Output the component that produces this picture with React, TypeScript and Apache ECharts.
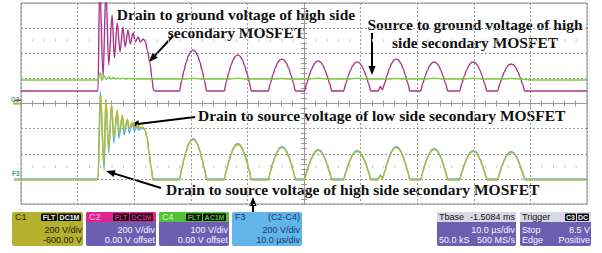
import React, { useEffect, useRef } from "react";
import * as echarts from "echarts";

// Time in µs from screen centre (10 µs/div), values in volts relative to each trace's ground marker.
const c2DrainToGround: [number, number][] = [
  [-50, 0], [-36.4, 0], [-36.1, 850], [-35.5, 111], [-35.0, 820], [-34.5, 207], [-33.9, 605], [-33.5, 263],
  [-33.0, 541], [-32.5, 310], [-32.0, 509], [-31.6, 350], [-31.1, 486], [-30.7, 374], [-30.2, 462], [-29.8, 390],
  [-29.3, 430], [-28.9, 390], [-28.4, 414], [-28.0, 390], [-27.7, 326], [-27.2, 223], [-26.9, 111], [-26.6, 8], [-26.3, 0],
  [-22.0, 0], [-21.6, 84], [-21.2, 163], [-20.8, 230], [-20.4, 282], [-20.0, 315], [-19.6, 326], [-19.2, 315], [-18.8, 282], [-18.4, 230], [-18.0, 163], [-17.6, 84], [-17.2, 0],
  [-14.1, 0], [-13.7, 74], [-13.3, 144], [-12.9, 203], [-12.5, 249], [-12.1, 277], [-11.7, 287], [-11.3, 277], [-10.9, 249], [-10.5, 203], [-10.1, 144], [-9.7, 74], [-9.3, 0],
  [-6.3, 0], [-5.9, 66], [-5.5, 128], [-5.1, 180], [-4.7, 221], [-4.3, 246], [-3.9, 255], [-3.5, 246], [-3.1, 221], [-2.7, 180], [-2.3, 128], [-1.9, 66], [-1.5, 0],
  [0.1, 0], [0.5, 62], [0.9, 120], [1.3, 169], [1.7, 207], [2.1, 231], [2.5, 239], [2.9, 231], [3.3, 207], [3.7, 169], [4.1, 120], [4.5, 62], [4.9, 0],
  [7.0, 0], [7.4, 60], [7.8, 116], [8.2, 163], [8.6, 200], [9.0, 223], [9.4, 231], [9.8, 223], [10.2, 200], [10.6, 163], [11.0, 116], [11.4, 60], [11.8, 0],
  [13.1, 0], [13.5, 35], [13.85, 10], [14.3, 66], [14.7, 128], [15.1, 180], [15.5, 221], [15.9, 246], [16.3, 255], [16.7, 246], [17.1, 221], [17.5, 180], [17.9, 128], [18.3, 66], [18.7, 0],
  [20.6, 0], [21.0, 60], [21.4, 116], [21.8, 163], [22.2, 200], [22.6, 223], [23.0, 231], [23.4, 223], [23.8, 200], [24.2, 163], [24.6, 116], [25.0, 60], [25.4, 0],
  [27.5, 0], [27.9, 60], [28.3, 116], [28.7, 163], [29.1, 200], [29.5, 223], [29.9, 231], [30.3, 223], [30.7, 200], [31.1, 163], [31.5, 116], [31.9, 60], [32.3, 0],
  [34.2, 0], [34.6, 56], [35.0, 108], [35.4, 152], [35.8, 186], [36.2, 208], [36.6, 215], [37.0, 208], [37.4, 186], [37.8, 152], [38.2, 108], [38.6, 56], [39.0, 0],
  [50, 0],
];

const c4SourceToGround: [number, number][] = [
  [-50, 0], [-36.4, 0], [-36.0, 30], [-35.7, -2], [-35.3, 16], [-34.9, 2], [-34.5, 12], [-34.1, 4], [-33.7, 10],
  [-33.3, 4], [-32.9, 8], [-32.5, 4], [-32.0, 7], [-31.5, 4], [-30.8, 6], [-30.0, 4],
  [-21.0, 4], [-19.6, 7], [-18.2, 4], [-13.1, 4], [-11.7, 7], [-10.3, 4], [-5.3, 4], [-3.9, 6], [-2.5, 4],
  [1.1, 4], [2.5, 7], [3.9, 4], [8.0, 4], [9.4, 7], [10.8, 4], [14.9, 4], [16.3, 6], [17.7, 4],
  [21.6, 4], [23.0, 7], [24.4, 4], [28.5, 4], [29.9, 7], [31.3, 4], [35.2, 4], [36.6, 6], [38.5, 4],
  [40, 0], [50, 0],
];

const c1LowSideDrainToSource: [number, number][] = [
  [-50, 0], [-36.4, 0], [-35.9, 677], [-35.4, 119], [-35.0, 645], [-34.5, 255], [-34.0, 605], [-33.6, 334],
  [-33.0, 557], [-32.6, 374], [-32.1, 517], [-31.7, 398], [-31.2, 486], [-30.8, 406], [-30.3, 462], [-29.9, 414],
  [-29.4, 438], [-29.0, 414], [-28.5, 422], [-28.1, 398], [-27.7, 334], [-27.4, 223], [-27.0, 96], [-26.7, 0],
  [-22.0, 0], [-21.6, 83], [-21.2, 161], [-20.8, 228], [-20.4, 279], [-20.0, 311], [-19.6, 322], [-19.2, 311], [-18.8, 279], [-18.4, 228], [-18.0, 161], [-17.6, 83], [-17.2, 0],
  [-14.1, 0], [-13.7, 73], [-13.3, 142], [-12.9, 200], [-12.5, 245], [-12.1, 273], [-11.7, 283], [-11.3, 273], [-10.9, 245], [-10.5, 200], [-10.1, 142], [-9.7, 73], [-9.3, 0],
  [-6.3, 0], [-5.9, 67], [-5.5, 130], [-5.1, 183], [-4.7, 224], [-4.3, 250], [-3.9, 259], [-3.5, 250], [-3.1, 224], [-2.7, 183], [-2.3, 130], [-1.9, 67], [-1.5, 0],
  [0.1, 0], [0.5, 61], [0.9, 118], [1.3, 166], [1.7, 204], [2.1, 227], [2.5, 235], [2.9, 227], [3.3, 204], [3.7, 166], [4.1, 118], [4.5, 61], [4.9, 0],
  [7.0, 0], [7.4, 59], [7.8, 114], [8.2, 160], [8.6, 197], [9.0, 219], [9.4, 227], [9.8, 219], [10.2, 197], [10.6, 160], [11.0, 114], [11.4, 59], [11.8, 0],
  [13.1, 0], [13.5, 32], [13.85, 8], [14.3, 67], [14.7, 130], [15.1, 183], [15.5, 224], [15.9, 250], [16.3, 259], [16.7, 250], [17.1, 224], [17.5, 183], [17.9, 130], [18.3, 67], [18.7, 0],
  [20.6, 0], [21.0, 63], [21.4, 122], [21.8, 172], [22.2, 210], [22.6, 235], [23.0, 243], [23.4, 235], [23.8, 210], [24.2, 172], [24.6, 122], [25.0, 63], [25.4, 0],
  [27.5, 0], [27.9, 59], [28.3, 114], [28.7, 160], [29.1, 197], [29.5, 219], [29.9, 227], [30.3, 219], [30.7, 197], [31.1, 160], [31.5, 114], [31.9, 59], [32.3, 0],
  [34.2, 0], [34.6, 57], [35.0, 110], [35.4, 155], [35.8, 190], [36.2, 212], [36.6, 219], [37.0, 212], [37.4, 190], [37.8, 155], [38.2, 110], [38.6, 57], [39.0, 0],
  [50, 0],
];

const f3HighSideDrainToSource: [number, number][] = [
  [-50, 0], [-36.4, 0], [-36.0, 700], [-35.3, 72], [-35.0, 629], [-34.5, 207], [-34.0, 589], [-33.6, 287],
  [-33.0, 541], [-32.7, 326], [-32.1, 501], [-31.8, 350], [-31.2, 470], [-30.9, 366], [-30.3, 446], [-30.0, 382],
  [-29.4, 422], [-29.2, 390], [-28.5, 410], [-28.1, 390], [-27.7, 326], [-27.4, 215], [-27.0, 88], [-26.7, 0],
  [-22.0, 0], [-21.6, 83], [-21.2, 161], [-20.8, 228], [-20.4, 279], [-20.0, 311], [-19.6, 322], [-19.2, 311], [-18.8, 279], [-18.4, 228], [-18.0, 161], [-17.6, 83], [-17.2, 0],
  [-14.1, 0], [-13.7, 73], [-13.3, 142], [-12.9, 200], [-12.5, 245], [-12.1, 273], [-11.7, 283], [-11.3, 273], [-10.9, 245], [-10.5, 200], [-10.1, 142], [-9.7, 73], [-9.3, 0],
  [-6.3, 0], [-5.9, 67], [-5.5, 130], [-5.1, 183], [-4.7, 224], [-4.3, 250], [-3.9, 259], [-3.5, 250], [-3.1, 224], [-2.7, 183], [-2.3, 130], [-1.9, 67], [-1.5, 0],
  [0.1, 0], [0.5, 61], [0.9, 118], [1.3, 166], [1.7, 204], [2.1, 227], [2.5, 235], [2.9, 227], [3.3, 204], [3.7, 166], [4.1, 118], [4.5, 61], [4.9, 0],
  [7.0, 0], [7.4, 59], [7.8, 114], [8.2, 160], [8.6, 197], [9.0, 219], [9.4, 227], [9.8, 219], [10.2, 197], [10.6, 160], [11.0, 114], [11.4, 59], [11.8, 0],
  [13.1, 0], [13.5, 32], [13.85, 8], [14.3, 67], [14.7, 130], [15.1, 183], [15.5, 224], [15.9, 250], [16.3, 259], [16.7, 250], [17.1, 224], [17.5, 183], [17.9, 130], [18.3, 67], [18.7, 0],
  [20.6, 0], [21.0, 63], [21.4, 122], [21.8, 172], [22.2, 210], [22.6, 235], [23.0, 243], [23.4, 235], [23.8, 210], [24.2, 172], [24.6, 122], [25.0, 63], [25.4, 0],
  [27.5, 0], [27.9, 59], [28.3, 114], [28.7, 160], [29.1, 197], [29.5, 219], [29.9, 227], [30.3, 219], [30.7, 197], [31.1, 160], [31.5, 114], [31.9, 59], [32.3, 0],
  [34.2, 0], [34.6, 57], [35.0, 110], [35.4, 155], [35.8, 190], [36.2, 212], [36.6, 219], [37.0, 212], [37.4, 190], [37.8, 155], [38.2, 110], [38.6, 57], [39.0, 0],
  [50, 0],
];

// volts per division and ground position (divisions from screen centre)
const traceNames = ["C2", "C4", "F3", "C1"];
const traceScales = [200, 100, 200, 200];
const tracePositions = [0.5, 0.935, -3.005, -3.045];
const traceColors = ["#a8358a", "#7ccd3e", "#55b2e6", "#b8bd2c"];
const traceData = [c2DrainToGround, c4SourceToGround, f3HighSideDrainToSource, c1LowSideDrainToSource];

const SERIF = '"Liberation Serif", "Times New Roman", serif';
const SANS = '"Liberation Sans", Arial, sans-serif';

function txt(text: string, x: number, y: number, size: number, fill: string, align = "left", bold = false, family = SANS) {
  return {
    type: "text",
    x,
    y,
    silent: true,
    style: {
      text,
      font: `${bold ? "bold " : ""}${size}px ${family}`,
      fill,
      textAlign: align,
      textVerticalAlign: "middle",
      align,
      verticalAlign: "middle",
    },
  };
}

function arrow(x1: number, y1: number, x2: number, y2: number) {
  const dx = x2 - x1;
  const dy = y2 - y1;
  const len = Math.hypot(dx, dy);
  const ux = dx / len;
  const uy = dy / len;
  const hl = 9;
  const hw = 3.6;
  const bx = x2 - ux * hl;
  const by = y2 - uy * hl;
  return [
    { type: "line", silent: true, shape: { x1, y1, x2: bx + ux, y2: by + uy }, style: { stroke: "#000", lineWidth: 2 } },
    {
      type: "polygon",
      silent: true,
      shape: { points: [[x2, y2], [bx - uy * hw, by + ux * hw], [bx + uy * hw, by - ux * hw]] },
      style: { fill: "#000" },
    },
  ];
}

function rect(x: number, y: number, w: number, h: number, fill: string, r: any = 0) {
  return { type: "rect", silent: true, shape: { x, y, width: w, height: h, r }, style: { fill } };
}

function badge(x: number, parts: [string, number][], color: string) {
  const els: any[] = [];
  let cx = x;
  parts.forEach(([t, w]) => {
    els.push(rect(cx, 213.5, w, 7.5, "#0c0c0c", 1));
    els.push(txt(t, cx + w / 2, 217.4, 7, color, "center", true));
    cx += w + 1;
  });
  return els;
}

export default function App() {
  const ref = useRef<HTMLDivElement>(null);
  useEffect(() => {
    if (!ref.current) return;
    const chart = echarts.init(ref.current, undefined, { renderer: "svg" });
    const PURPLE = "#6c5fb2";
    const series: any[] = traceData.map((d, i) => ({
      name: traceNames[i],
      type: "line",
      data: d.map(([t, v]) => [t, tracePositions[i] + v / traceScales[i]]),
      showSymbol: false,
      smooth: 0.3,
      smoothMonotone: "x",
      lineStyle: { color: traceColors[i], width: 1.4 },
      z: 3 + i,
      silent: true,
    }));
    series[0].markLine = {
      silent: true,
      symbol: "none",
      label: { show: false },
      lineStyle: { color: "#c9c9c9", width: 3, type: [1, 10.32] },
      data: [{ yAxis: 2.5 }, { yAxis: -2.5 }],
    };

    const graphics: any[] = [
      txt("Drain to ground voltage of high side", 236, 14.8, 15.5, "#111", "center", true, SERIF),
      txt("secondary MOSFET", 236, 32.8, 15.5, "#111", "center", true, SERIF),
      txt("Source to ground voltage of high", 475, 24.8, 15.5, "#111", "center", true, SERIF),
      txt("side secondary MOSFET", 475, 42.8, 15.5, "#111", "center", true, SERIF),
      txt("Drain to source voltage of low side secondary MOSFET", 198, 115.8, 15.5, "#111", "left", true, SERIF),
      txt("Drain to source voltage of high side secondary MOSFET", 166, 189.8, 15.5, "#111", "left", true, SERIF),
      ...arrow(173, 36, 149, 62),
      ...arrow(372, 33, 372, 75),
      ...arrow(195, 117, 130, 125),
      ...arrow(161, 188, 106, 171),
      ...arrow(253, 227, 253, 197),
      txt("C3", 11, 99, 6.5, "#4f9c80", "left", true),
      rect(14, 99.5, 7, 1.5, "#b0388c"),
      rect(13, 102.6, 8, 2, "#7ccd3e"),
      txt("F3", 12, 173, 6.5, "#3a9a9a", "left", true),
      rect(14, 178.3, 7, 1.4, "#55b2e6"),
      rect(14, 179.6, 7, 1.2, "#b8bd2c"),
      txt("\u2190", 20, 208, 8, "#b8bd2c", "center", true),
      rect(12, 212, 71, 34, "#b3b12d", 2),
      txt("C1", 15, 217.4, 9, "#2b2b10"),
      ...badge(41, [["FLT", 16], ["DC1M", 23]], "#f2f2f2"),
      txt("200 V/div", 82, 230, 9, "#1e1e10", "right"),
      txt("-600.00 V", 82, 240, 9, "#1e1e10", "right"),
      rect(86, 212, 70, 34, PURPLE, 2),
      rect(86, 212, 70, 10, "#e0238e", [2, 2, 0, 0]),
      txt("C2", 89, 217.4, 9, "#f6bfe0"),
      ...badge(113, [["FLT", 16], ["DC1M", 23]], "#e0238e"),
      txt("200 V/div", 155, 230, 9, "#f4f4ff", "right"),
      txt("0.00 V offset", 155, 240, 9, "#f4f4ff", "right"),
      rect(159, 212, 70, 34, PURPLE, 2),
      rect(159, 212, 70, 10, "#55c234", [2, 2, 0, 0]),
      txt("C4", 162, 217.4, 9, "#d8f5cc"),
      ...badge(186, [["FLT", 16], ["AC1M", 23]], "#55c234"),
      txt("100 V/div", 228, 230, 9, "#f4f4ff", "right"),
      txt("0.00 V offset", 228, 240, 9, "#f4f4ff", "right"),
      rect(232, 212, 70, 34, "#62b5ea", 2),
      txt("F3", 235, 217.4, 9, "#1d3866"),
      txt("(C2-C4)", 300, 217.4, 9, "#1d3866", "right"),
      txt("200 V/div", 300, 230, 9, "#1d3866", "right"),
      txt("10.0 \u00b5s/div", 300, 240, 9, "#1d3866", "right"),
      rect(437, 212, 79, 34, PURPLE, 2),
      rect(437, 212, 79, 10, "#d9d8e6", [2, 2, 0, 0]),
      txt("Tbase", 439, 217.4, 9, "#111"),
      txt("-1.5084 ms", 515, 217.4, 9, "#111", "right"),
      txt("10.0 \u00b5s/div", 515, 230, 9, "#f4f4ff", "right"),
      txt("50.0 kS", 439, 240, 9, "#f4f4ff"),
      txt("500 MS/s", 515, 240, 9, "#f4f4ff", "right"),
      rect(520, 212, 71, 34, PURPLE, 2),
      rect(520, 212, 71, 10, "#d9d8e6", [2, 2, 0, 0]),
      txt("Trigger", 522, 217.4, 9, "#111"),
      ...badge(565, [["C3", 11], ["DC", 12]], "#f2f2f2"),
      txt("Stop", 522, 230, 9, "#f4f4ff"),
      txt("8.5 V", 590, 230, 9, "#f4f4ff", "right"),
      txt("Edge", 522, 240, 9, "#f4f4ff"),
      txt("Positive", 590, 240, 9, "#f4f4ff", "right"),
    ];

    const gridLine = { show: true, lineStyle: { color: "#999999", width: 1, type: [2, 2] } };
    const centreLine = { onZero: true, lineStyle: { color: "#999999", width: 1 } };
    const tick = { show: true, inside: true, length: 3, lineStyle: { color: "#999999" } };
    const minor = { show: true, splitNumber: 5, length: 3, lineStyle: { color: "#999999" } };
    chart.setOption({
      animation: false,
      backgroundColor: "#ffffff",
      grid: { left: 21, top: 3, width: 566, height: 201, show: true, borderColor: "#8f8f8f", borderWidth: 1, backgroundColor: "transparent" },
      xAxis: [
        { type: "value", min: -50, max: 50, interval: 10, position: "bottom", axisLine: centreLine, axisTick: tick, minorTick: minor, axisLabel: { show: false }, splitLine: gridLine },
        { type: "value", min: -50, max: 50, interval: 10, position: "top", axisLine: centreLine, axisTick: tick, minorTick: minor, axisLabel: { show: false }, splitLine: { show: false } },
      ],
      yAxis: [
        { type: "value", min: -4, max: 4, interval: 1, position: "left", axisLine: centreLine, axisTick: tick, minorTick: minor, axisLabel: { show: false }, splitLine: gridLine },
        { type: "value", min: -4, max: 4, interval: 1, position: "right", axisLine: centreLine, axisTick: tick, minorTick: minor, axisLabel: { show: false }, splitLine: { show: false } },
      ],
      series,
      graphic: graphics,
    });
    return () => chart.dispose();
  }, []);
  return <div ref={ref} style={{ position: "fixed", left: 0, top: 0, width: 602, height: 253 }} />;
}
